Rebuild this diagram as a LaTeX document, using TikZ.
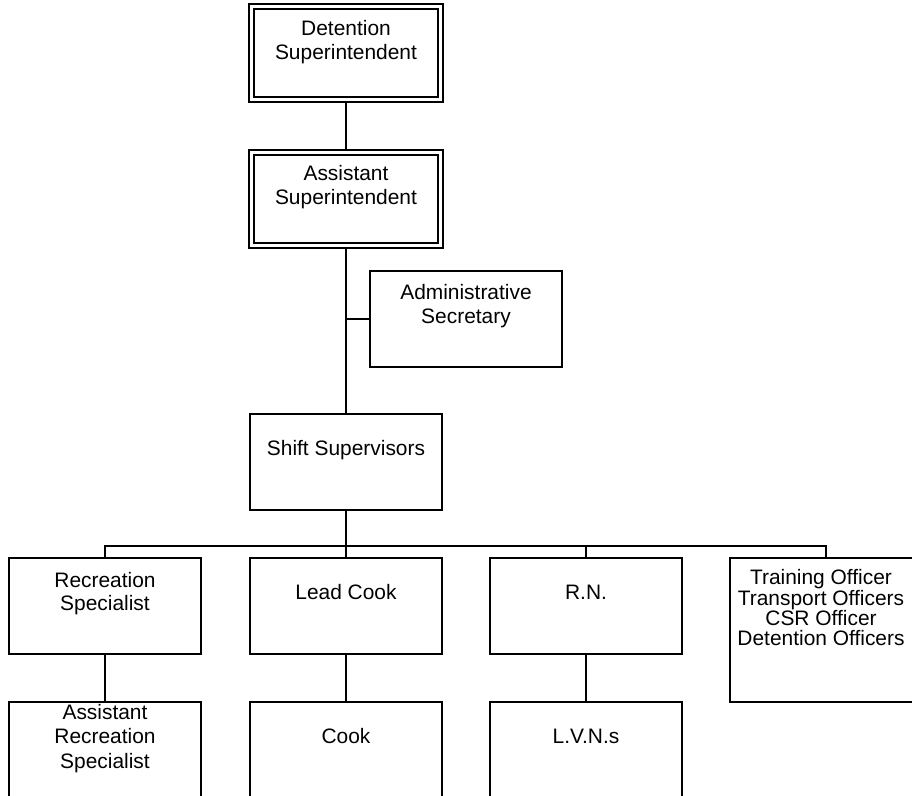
\documentclass[tikz,border=0pt]{standalone}
\usepackage{fontspec}
\setmainfont{Liberation Sans}
\usetikzlibrary{backgrounds}

\begin{document}
\begin{tikzpicture}[x=1bp, y=-1bp,
    box/.style = {draw, line width=2bp, minimum width=192bp, minimum height=96bp, inner sep=0pt},
    dblbox/.style = {draw, line width=2bp, double, double distance=3bp, minimum width=189bp, minimum height=93bp, inner sep=0pt},
    lbl/.style = {anchor=north, align=center, inner sep=0pt, font=\fontsize{21}{23.5}\selectfont},
    link/.style = {line width=2bp}]
    \useasboundingbox (0,0) rectangle (912,796);
    \clip (0,0) rectangle (912,796);

    % top of the chart
    \node[dblbox] (topbox) at (346, 53) {};
    \node[lbl] (toptext) at ([yshift=-15bp]topbox.north) {Detention\\Superintendent};

    \node[dblbox] (asstbox) at (346, 199) {};
    \node[lbl] (assttext) at ([yshift=-14bp]asstbox.north) {Assistant\\Superintendent};

    \node[box] (adminbox) at (466, 319) {};
    \node[lbl] (admintext) at ([yshift=-14.5bp]adminbox.north) {Administrative\\Secretary};

    \node[box] (shiftbox) at (346, 462) {};
    \node[lbl] (shifttext) at ([yshift=-27.5bp]shiftbox.north) {Shift Supervisors};

    % second row
    \node[box] (recbox) at (105, 606) {};
    \node[lbl] (rectext) at ([yshift=-15bp]recbox.north) {Recreation\\Specialist};

    \node[box] (leadbox) at (346, 606) {};
    \node[lbl] (leadtext) at ([yshift=-27.5bp]leadbox.north) {Lead Cook};

    \node[box] (rnbox) at (586, 606) {};
    \node[lbl] (rntext) at ([yshift=-27.5bp]rnbox.north) {R.N.};

    \node[box, minimum height=144bp] (trainbox) at (826, 630) {};
    \node[lbl, font=\fontsize{21}{19.5}\selectfont] (traintext) at ([xshift=-5bp, yshift=-12.5bp]trainbox.north)
        {Training Officer\\Transport Officers\\CSR Officer\\Detention Officers};

    % third row
    \node[box] (arecbox) at (105, 750) {};
    \node[lbl, font=\fontsize{21}{24.5}\selectfont] (arectext) at ([yshift=-3bp]arecbox.north)
        {Assistant\\Recreation\\Specialist};

    \node[box] (cookbox) at (346, 750) {};
    \node[lbl] (cooktext) at ([yshift=-27.5bp]cookbox.north) {Cook};

    \node[box] (lvnbox) at (586, 750) {};
    \node[lbl] (lvntext) at ([yshift=-27.5bp]lvnbox.north) {L.V.N.s};

    \coordinate (bus) at ([yshift=11bp]recbox.north);

    \begin{scope}[on background layer]
        \draw[link] (topbox.south) -- (asstbox.north);
        \draw[link] (asstbox.south) -- (shiftbox.north);
        \draw[link] (adminbox.west) -- (adminbox.west -| asstbox.south);

        \draw[link] (recbox.north) -- (bus) -| (trainbox.north);
        \draw[link] (shiftbox.south) -- (shiftbox.south |- bus);
        \draw[link] (leadbox.north) -- (leadbox.north |- bus);
        \draw[link] (rnbox.north) -- (rnbox.north |- bus);

        \draw[link] (recbox.south) -- (arecbox.north);
        \draw[link] (leadbox.south) -- (cookbox.north);
        \draw[link] (rnbox.south) -- (lvnbox.north);
    \end{scope}
\end{tikzpicture}
\end{document}
